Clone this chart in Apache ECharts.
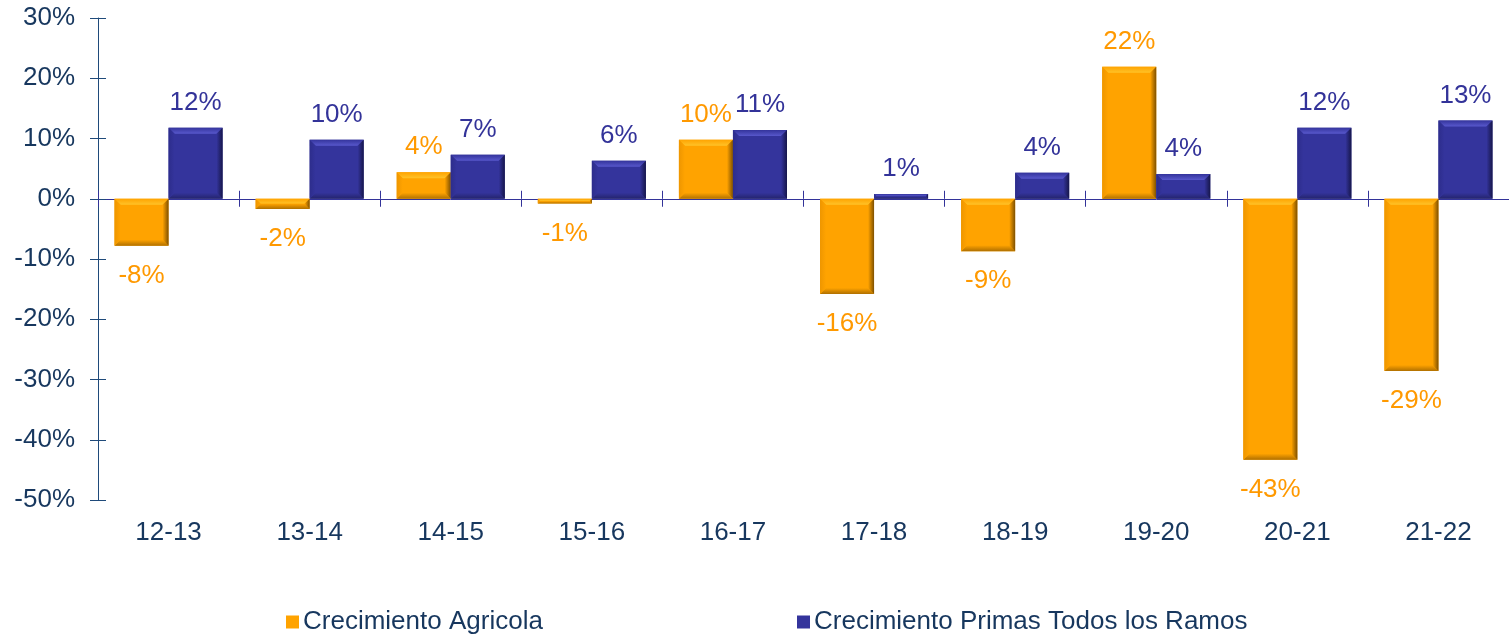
<!DOCTYPE html>
<html>
<head>
<meta charset="utf-8">
<script src="https://cdn.jsdelivr.net/npm/echarts@6/dist/echarts.min.js"></script>
<style>
  html, body { margin: 0; padding: 0; background: #fff; }
  #chart { width: 1509px; height: 635px; }
</style>
</head>
<body>
<div id="chart"></div>
<script>
// Season labels and growth rates (%)
const categories = ['12-13', '13-14', '14-15', '15-16', '16-17', '17-18', '18-19', '19-20', '20-21', '21-22'];
const agricola = [-7.8, -1.7, 4.4, -0.8, 9.8, -15.8, -8.7, 21.9, -43.3, -28.6];
const primas = [11.8, 9.8, 7.3, 6.3, 11.4, 0.8, 4.3, 4.1, 11.8, 13.0];
const seriesNames = ['Crecimiento Agricola', 'Crecimiento Primas Todos los Ramos'];

const FONT = '"Liberation Sans", Arial, sans-serif';
const FONT_SIZE = 26;
const NAVY = '#17375E';
const AXIS_BLUE = '#333399';

const palettes = {
  orange: { face: '#FFA300', top: '#FFC328', bottom: '#B07000', left: '#EE9600', right: '#7E5000', text: '#FF9900' },
  blue:   { face: '#34349C', top: '#5858CC', bottom: '#24246C', left: '#2D2D8C', right: '#16164A', text: '#333399' }
};

function grad(x0, y0, x1, y1, from, to) {
  return new echarts.graphic.LinearGradient(x0, y0, x1, y1, [
    { offset: 0, color: from }, { offset: 1, color: to }
  ]);
}

// Bevelled bar drawn on the category/value scales; side -1 = left half of the band, +1 = right half
function bevelBar(side, pal) {
  return function (params, api) {
    const idx = api.value(0);
    const v = api.value(1);
    const base = api.coord([idx, 0]);
    const tip = api.coord([idx, v]);
    const band = api.size([1, 0])[0];
    const w = band * 0.383;
    const x0 = side < 0 ? base[0] - w : base[0];
    const x1 = x0 + w;
    const yTop = Math.min(base[1], tip[1]);
    const yBot = Math.max(base[1], tip[1]);
    const h = yBot - yTop;
    const b = Math.max(0, Math.min(6, h / 2, w / 2));
    const children = [
      { type: 'rect', shape: { x: x0, y: yTop, width: w, height: h }, style: { fill: pal.face } },
      { type: 'polygon', shape: { points: [[x0, yTop], [x1, yTop], [x1 - b, yTop + b], [x0 + b, yTop + b]] },
        style: { fill: grad(0, 0, 0, 1, pal.face, pal.top) } },
      { type: 'polygon', shape: { points: [[x0, yBot], [x1, yBot], [x1 - b, yBot - b], [x0 + b, yBot - b]] },
        style: { fill: grad(0, 0, 0, 1, pal.face, pal.bottom) } },
      { type: 'polygon', shape: { points: [[x0, yTop], [x0 + b, yTop + b], [x0 + b, yBot - b], [x0, yBot]] },
        style: { fill: grad(0, 0, 1, 0, pal.left, pal.face) } },
      { type: 'polygon', shape: { points: [[x1, yTop], [x1 - b, yTop + b], [x1 - b, yBot - b], [x1, yBot]] },
        style: { fill: grad(0, 0, 1, 0, pal.face, pal.right) } }
    ];
    const cx = (x0 + x1) / 2;
    const ty = v >= 0 ? yTop - 25 : yBot + 30;
    children.push({
      type: 'text',
      style: {
        text: Math.round(v) + '%',
        x: cx, y: ty,
        fill: pal.text,
        font: FONT_SIZE + 'px ' + FONT,
        align: 'center', verticalAlign: 'middle',
        textAlign: 'center', textVerticalAlign: 'middle'
      }
    });
    return { type: 'group', children: children };
  };
}

const chart = echarts.init(document.getElementById('chart'), null, { renderer: 'canvas' });

const legendCommon = {
  top: 604,
  icon: 'rect',
  itemWidth: 13,
  itemHeight: 13,
  itemGap: 5,
  textStyle: { fontFamily: FONT, fontSize: FONT_SIZE, color: NAVY, padding: [0, 0, 0, -1] },
  selectedMode: false
};

chart.setOption({
  animation: false,
  color: [palettes.orange.face, palettes.blue.face],
  grid: { left: 98, right: 0, top: 18, bottom: 135, containLabel: false },
  legend: [
    Object.assign({ left: 281, data: [seriesNames[0]] }, legendCommon),
    Object.assign({ left: 792, data: [seriesNames[1]] }, legendCommon)
  ],
  xAxis: [
    {
      type: 'category', data: categories, position: 'bottom',
      axisLine: { onZero: true, onZeroAxisIndex: 0, lineStyle: { color: AXIS_BLUE, width: 1 } },
      axisTick: { show: true, inside: false, length: 8, lineStyle: { color: AXIS_BLUE } },
      axisLabel: { show: false }, splitLine: { show: false }
    },
    {
      type: 'category', data: categories, position: 'bottom',
      axisLine: { onZero: true, onZeroAxisIndex: 0, show: false },
      axisTick: { show: true, inside: true, length: 8, lineStyle: { color: AXIS_BLUE } },
      axisLabel: { show: false }, splitLine: { show: false }
    },
    {
      type: 'category', data: categories, position: 'bottom',
      axisLine: { onZero: false, show: false },
      axisTick: { show: false },
      axisLabel: { show: true, margin: 20, fontFamily: FONT, fontSize: FONT_SIZE, color: NAVY },
      splitLine: { show: false }
    }
  ],
  yAxis: [
    {
      type: 'value', min: -50, max: 30, interval: 10,
      axisLine: { show: true, lineStyle: { color: '#1F4A7A', width: 1 } },
      axisTick: { show: true, inside: false, length: 8, lineStyle: { color: '#1F4A7A' } },
      axisLabel: { margin: 23, fontFamily: FONT, fontSize: FONT_SIZE, color: NAVY, formatter: '{value}%' },
      splitLine: { show: false }
    },
    {
      type: 'value', min: -50, max: 30, interval: 10, position: 'left',
      axisLine: { show: false },
      axisTick: { show: true, inside: true, length: 8, lineStyle: { color: '#1F4A7A' } },
      axisLabel: { show: false },
      splitLine: { show: false }
    }
  ],
  series: [
    {
      name: seriesNames[0], type: 'custom', xAxisIndex: 0, yAxisIndex: 0,
      itemStyle: { color: palettes.orange.face },
      encode: { x: 0, y: 1 },
      renderItem: bevelBar(-1, palettes.orange),
      data: agricola.map((v, i) => [i, v])
    },
    {
      name: seriesNames[1], type: 'custom', xAxisIndex: 0, yAxisIndex: 0,
      itemStyle: { color: palettes.blue.face },
      encode: { x: 0, y: 1 },
      renderItem: bevelBar(1, palettes.blue),
      data: primas.map((v, i) => [i, v])
    }
  ]
});
</script>
</body>
</html>
